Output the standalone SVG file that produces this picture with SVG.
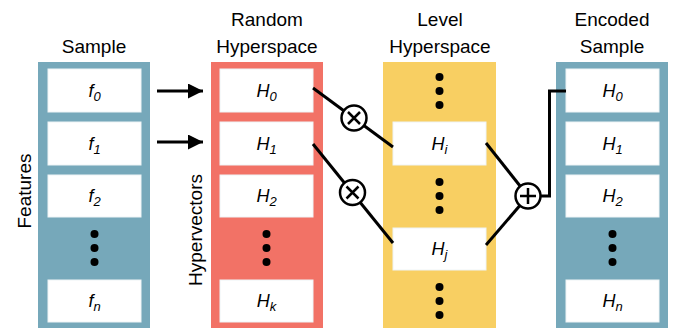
<svg xmlns="http://www.w3.org/2000/svg" width="680" height="329" viewBox="0 0 680 329">
<defs>
<style>
.t{font-family:"Liberation Sans",Arial,sans-serif;font-size:19px;fill:#000;text-anchor:middle}
.m{font-family:"Liberation Sans",Arial,sans-serif;font-size:18px;font-style:italic;fill:#000;text-anchor:middle}
.s{font-size:13px}
.box{fill:#fff;stroke:#eef4f6;stroke-width:1}
.blue{fill:#76a8ba}
.red{fill:#f27266}
.yel{fill:#f8cf62}
.dot{fill:#000}
.ln{stroke:#000;stroke-width:3;fill:none}
.op{fill:#fff;stroke:#000;stroke-width:2.5}
.opl{stroke:#000;stroke-width:2.5;fill:none}
</style>
<marker id="ah" viewBox="0 0 10 10" refX="10" refY="5" markerWidth="6" markerHeight="5" markerUnits="strokeWidth" orient="auto">
<path d="M0,0 L10,5 L0,10 z" fill="#000"/>
</marker>
</defs>

<g id="titles">
<text class="t" x="94" y="53">Sample</text>
<text class="t" x="267" y="26">Random</text>
<text class="t" x="267" y="53">Hyperspace</text>
<text class="t" x="440" y="26">Level</text>
<text class="t" x="440" y="53">Hyperspace</text>
<text class="t" x="612" y="26">Encoded</text>
<text class="t" x="612" y="53">Sample</text>
<text class="t" transform="translate(31,191) rotate(-90)">Features</text>
<text class="t" transform="translate(202,230) rotate(-90)">Hypervectors</text>
</g>

<g id="sample">
<rect class="blue" x="38" y="62" width="112" height="266"/>
<rect class="box" x="48" y="69" width="93" height="43"/>
<text class="m" x="94.5" y="97">f<tspan class="s" dy="4">0</tspan></text>
<rect class="box" x="48" y="122" width="93" height="43"/>
<text class="m" x="94.5" y="150">f<tspan class="s" dy="4">1</tspan></text>
<rect class="box" x="48" y="175" width="93" height="42"/>
<text class="m" x="94.5" y="202">f<tspan class="s" dy="4">2</tspan></text>
<circle class="dot" cx="94.5" cy="234" r="4"/>
<circle class="dot" cx="94.5" cy="248" r="4"/>
<circle class="dot" cx="94.5" cy="262" r="4"/>
<rect class="box" x="48" y="280" width="93" height="42"/>
<text class="m" x="94.5" y="307">f<tspan class="s" dy="4">n</tspan></text>
</g>

<g id="random">
<rect class="red" x="211" y="62" width="112" height="266"/>
<rect class="box" x="220" y="69" width="93" height="43"/>
<text class="m" x="266.5" y="97">H<tspan class="s" dy="4">0</tspan></text>
<rect class="box" x="220" y="122" width="93" height="43"/>
<text class="m" x="266.5" y="150">H<tspan class="s" dy="4">1</tspan></text>
<rect class="box" x="220" y="175" width="93" height="42"/>
<text class="m" x="266.5" y="202">H<tspan class="s" dy="4">2</tspan></text>
<circle class="dot" cx="266.5" cy="234" r="4"/>
<circle class="dot" cx="266.5" cy="248" r="4"/>
<circle class="dot" cx="266.5" cy="262" r="4"/>
<rect class="box" x="220" y="280" width="93" height="42"/>
<text class="m" x="266.5" y="307">H<tspan class="s" dy="4">k</tspan></text>
</g>

<g id="level">
<rect class="yel" x="383" y="62" width="113" height="266"/>
<circle class="dot" cx="439.5" cy="77" r="4"/>
<circle class="dot" cx="439.5" cy="91" r="4"/>
<circle class="dot" cx="439.5" cy="105" r="4"/>
<rect class="box" x="393" y="122" width="93" height="43"/>
<text class="m" x="439.5" y="150">H<tspan class="s" dy="4">i</tspan></text>
<circle class="dot" cx="439.5" cy="182" r="4"/>
<circle class="dot" cx="439.5" cy="196" r="4"/>
<circle class="dot" cx="439.5" cy="210" r="4"/>
<rect class="box" x="393" y="228" width="93" height="42"/>
<text class="m" x="439.5" y="255">H<tspan class="s" dy="4">j</tspan></text>
<circle class="dot" cx="439.5" cy="287" r="4"/>
<circle class="dot" cx="439.5" cy="301" r="4"/>
<circle class="dot" cx="439.5" cy="315" r="4"/>
</g>

<g id="encoded">
<rect class="blue" x="556" y="62" width="112" height="266"/>
<rect class="box" x="566" y="69" width="93" height="43"/>
<text class="m" x="612.5" y="97">H<tspan class="s" dy="4">0</tspan></text>
<rect class="box" x="566" y="122" width="93" height="43"/>
<text class="m" x="612.5" y="150">H<tspan class="s" dy="4">1</tspan></text>
<rect class="box" x="566" y="175" width="93" height="42"/>
<text class="m" x="612.5" y="202">H<tspan class="s" dy="4">2</tspan></text>
<circle class="dot" cx="612.5" cy="234" r="4"/>
<circle class="dot" cx="612.5" cy="248" r="4"/>
<circle class="dot" cx="612.5" cy="262" r="4"/>
<rect class="box" x="566" y="280" width="93" height="42"/>
<text class="m" x="612.5" y="307">H<tspan class="s" dy="4">n</tspan></text>
</g>

<g id="connectors">
<line class="ln" x1="157" y1="91" x2="203" y2="91" marker-end="url(#ah)"/>
<line class="ln" x1="157" y1="142" x2="203" y2="142" marker-end="url(#ah)"/>
<line class="ln" x1="313" y1="88" x2="393" y2="147"/>
<line class="ln" x1="313" y1="144" x2="393" y2="243"/>
<line class="ln" x1="486" y1="143" x2="528" y2="196"/>
<line class="ln" x1="486" y1="245" x2="528" y2="196"/>
<polyline class="ln" points="540,196 549.5,196 549.5,91 566,91"/>
</g>

<g id="mul1">
<circle class="op" cx="354" cy="118" r="12.5"/>
<path class="opl" d="M348,112 L360,124 M360,112 L348,124"/>
</g>
<g id="mul2">
<circle class="op" cx="352.5" cy="192.5" r="12.5"/>
<path class="opl" d="M346.5,186.5 L358.5,198.5 M358.5,186.5 L346.5,198.5"/>
</g>
<g id="add">
<circle class="op" cx="528" cy="196" r="12.5"/>
<path class="opl" d="M528,188 L528,204 M520,196 L536,196"/>
</g>
</svg>
